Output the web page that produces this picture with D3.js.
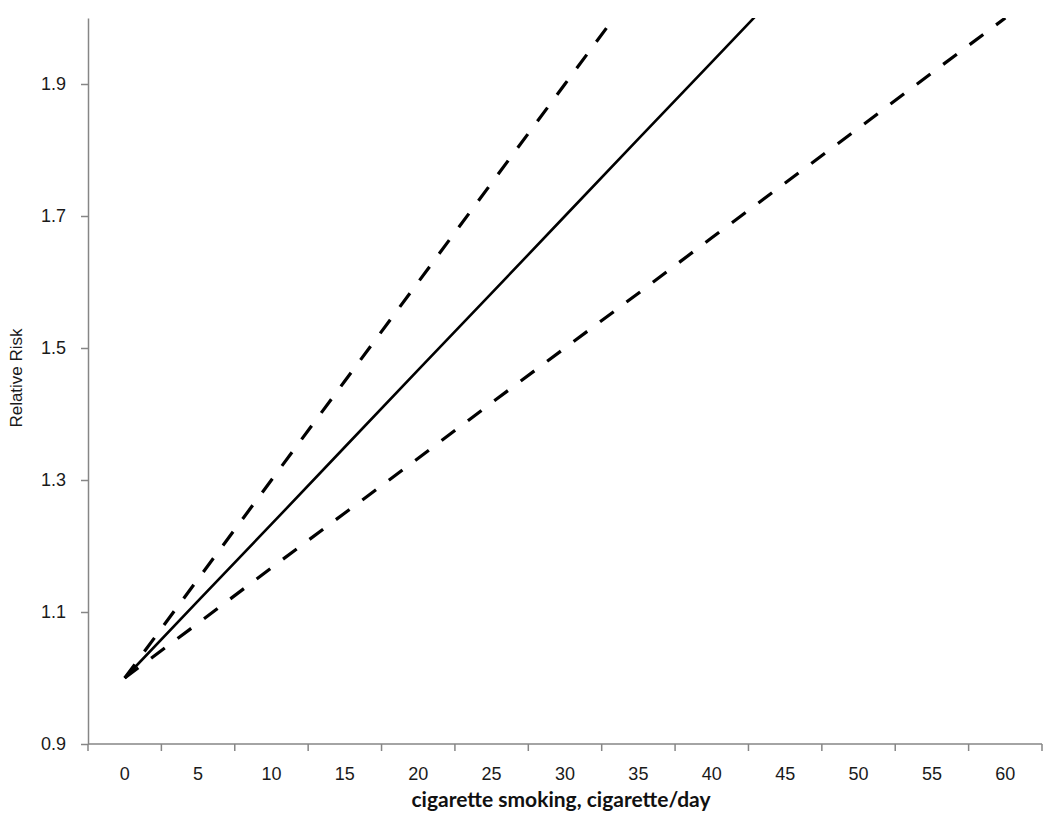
<!DOCTYPE html>
<html><head><meta charset="utf-8">
<script src="https://cdn.jsdelivr.net/npm/d3@7"></script>
<style>
html,body{margin:0;padding:0;background:#fff;}
svg{display:block;}
</style></head>
<body>
<svg id="chart" width="1050" height="816"></svg>
<script>
// Data
const categories = [0,5,10,15,20,25,30,35,40,45,50,55,60];
const rrEstimate = [1.000,1.117,1.233,1.350,1.467,1.583,1.700,1.817,1.933,2.050,2.167,2.283,2.400];
const rrUpper    = [1.000,1.150,1.300,1.450,1.600,1.750,1.900,2.050,2.200,2.350,2.500,2.650,2.800];
const rrLower    = [1.000,1.083,1.167,1.250,1.333,1.417,1.500,1.583,1.667,1.750,1.833,1.917,2.000];
const yTicks = [0.9,1.1,1.3,1.5,1.7,1.9];

const svg = d3.select("#chart");
const mLeft = 88, mRight = 1042, mTop = 18, mBottom = 744;

const x = d3.scaleBand().domain(categories).range([mLeft, mRight]).paddingInner(0).paddingOuter(0);
const y = d3.scaleLinear().domain([0.9, 2.0]).range([mBottom, mTop]);

svg.append("defs").append("clipPath").attr("id","plotclip")
  .append("rect").attr("x", mLeft).attr("y", mTop).attr("width", mRight-mLeft).attr("height", mBottom-mTop);

const axisColor = "#868686";
const labelColor = "#1a1a1a";

// Y axis
const yAxis = svg.append("g").attr("transform", `translate(${mLeft},0)`)
  .call(d3.axisLeft(y).tickValues(yTicks).tickSize(7).tickSizeOuter(0).tickFormat(d3.format(".1f")));
yAxis.select(".domain").attr("stroke", axisColor).attr("stroke-width", 1.5);
yAxis.selectAll(".tick line").attr("stroke", axisColor).attr("stroke-width", 1.5);
yAxis.selectAll(".tick text").attr("x", -22).attr("fill", labelColor)
  .style("font-family", "Liberation Sans, Arial, sans-serif").style("font-size", "18px");

// X axis (category axis with ticks between categories)
const xAxisG = svg.append("g").attr("transform", `translate(0,${mBottom})`);
xAxisG.call(d3.axisBottom(x).tickSize(0).tickSizeOuter(0));
xAxisG.select(".domain").attr("stroke", axisColor).attr("stroke-width", 1.5)
  .attr("d", `M${mLeft},0H${mRight}`);
xAxisG.selectAll(".tick text").attr("y", 23).attr("dy", "0.71em").attr("fill", labelColor)
  .style("font-family", "Liberation Sans, Arial, sans-serif").style("font-size", "18px");
const boundaries = categories.map(c => x(c)).concat([x(categories[categories.length-1]) + x.bandwidth()]);
xAxisG.selectAll("line.btick").data(boundaries).join("line").attr("class","btick")
  .attr("x1", d=>d).attr("x2", d=>d).attr("y1", 0).attr("y2", 7)
  .attr("stroke", axisColor).attr("stroke-width", 1.5);

// Lines
const line = d3.line().x((d,i) => x(categories[i]) + x.bandwidth()/2).y(d => y(d));
const plot = svg.append("g").attr("clip-path", "url(#plotclip)");
plot.append("path").datum(rrLower).attr("d", line).attr("fill","none")
  .attr("stroke","#000").attr("stroke-width",3.2).attr("stroke-dasharray","17,16");
plot.append("path").datum(rrUpper).attr("d", line).attr("fill","none")
  .attr("stroke","#000").attr("stroke-width",3.2).attr("stroke-dasharray","17,16");
plot.append("path").datum(rrEstimate).attr("d", line).attr("fill","none")
  .attr("stroke","#000").attr("stroke-width",2.6);

// Axis titles
svg.append("text").attr("x", 561).attr("y", 807).attr("text-anchor","middle")
  .attr("fill","#111").style("font-family","Lato, 'Open Sans', sans-serif")
  .style("font-size","21px").style("font-weight","bold")
  .text("cigarette smoking, cigarette/day");
svg.append("text").attr("transform","translate(22,378) rotate(-90)").attr("text-anchor","middle")
  .attr("fill",labelColor).style("font-family","Liberation Sans, Arial, sans-serif")
  .style("font-size","17px").text("Relative Risk");
</script>
</body></html>
